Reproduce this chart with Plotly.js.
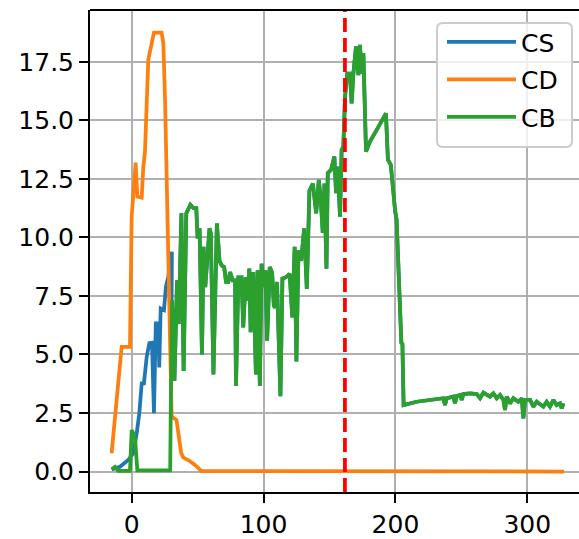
<!DOCTYPE html>
<html><head><meta charset="utf-8">
<script src="https://cdn.plot.ly/plotly-3.0.1.min.js"></script>
<style>html,body{margin:0;padding:0;background:#fff;overflow:hidden}</style>
</head><body><div id="chart" style="width:579px;height:539px"></div>
<script>
// ---- data ----
const seriesNames = ['CS', 'CD', 'CB'];
const seriesColors = ['#1f77b4', '#ff7f0e', '#2ca02c'];

// CD (orange)
const cdX = [-15.2, -7.6, -1.3, 0, 1.2, 3, 4.3, 7.6, 8.8, 10.1, 12.6, 13.9, 15.2, 16.9, 22.7, 24, 25.3, 27.5, 29.5, 30.3, 34, 37.5, 39, 44, 48, 53, 327.9];
const cdY = [0.78, 5.33, 5.33, 10.9, 11.8, 13.2, 11.75, 11.7, 13.0, 13.67, 17.6, 17.94, 18.37, 18.75, 18.75, 18.3, 15.9, 10.5, 4.2, 2.35, 2.2, 0.8, 0.6, 0.45, 0.28, 0.02, 0];

// CS early part (blue), before it coincides with CB
const csEarlyX = [-15.2, -8.9, -2.6, 1.2, 3.8, 5.8, 7.6, 9.3, 11.4, 13.4, 15.4, 16.9, 18.3, 20.2, 20.9, 22, 24.5, 26, 27.8, 29, 30.5];
const csEarlyY = [0.09, 0.2, 0.49, 0.78, 1.63, 2.49, 3.77, 3.77, 4.9, 5.48, 5.5, 2.49, 6.33, 6.33, 4.45, 6.97, 6.9, 7.9, 8.33, 8.75, 9.39];

// CB early part (green)
const cbEarlyX = [-15.2, -12.7, -10.2, -1.3, 0, 2.5, 4.3, 29.2];
const cbEarlyY = [0.09, 0.2, 0.03, 0.03, 1.77, 1.49, 0.05, 0.05];

// shared part of CS and CB
const mainX = [29.8, 30.6, 32.4, 34.4, 35.7, 37.7, 39.4, 41.4, 44.5, 47, 49, 50, 51.5, 53.3, 54.5, 55.8, 59, 60, 62, 64.6, 66.6, 68.3, 70.1, 71.6, 73.3, 74.6, 76.6, 78.4, 79.1, 80.9, 83.3, 84.6, 86.5, 87.6, 89.2, 90.2, 92.2, 94.2, 95.5, 97.2, 98.5, 100.2, 101.5, 102.7, 104.7, 106.5, 107.8, 108.8, 110.2, 112.8, 114.3, 117, 119.8, 121.8, 123.6, 124.9, 126.5, 128.5, 130.8, 132.8, 134.8, 137.4, 139.9, 141.9, 143.5, 144.9, 146.2, 147.7, 148.7, 151.2, 153.7, 155, 156.2, 158, 159.2, 160.5, 161.8, 163.5, 165.5, 166.8, 168.1, 170.1, 171.9, 173.1, 174.4, 175.7, 177.7, 180.7, 185.8, 192.8, 194.3, 196.5, 199.7, 200.9, 204.5, 205.3, 206.2, 216.1, 236.3, 237.6, 238.9, 243.9, 245.2, 246.5, 249, 250.3, 251.5, 256.6, 261.6, 264.2, 266.7, 269.2, 271.7, 274.3, 276.8, 279.3, 281.9, 283.1, 284.4, 286.9, 289.4, 293.2, 295.8, 297, 298.3, 302.1, 304.6, 307.1, 312.2, 314.7, 317.2, 319.8, 322.3, 324.8, 326.1, 327.4];
const mainY = [3.6, 7.3, 3.87, 8.17, 6.3, 11.03, 4.3, 11.03, 11.4, 11.25, 11.25, 9.96, 10.39, 5.0, 9.6, 7.88, 10.39, 10.18, 4.15, 10.6, 9.0, 8.8, 8.74, 8.1, 8.1, 8.52, 8.17, 8.17, 3.65, 8.3, 8.3, 6.16, 8.3, 7.3, 8.67, 5.95, 8.52, 4.15, 8.6, 3.65, 8.88, 7.88, 8.6, 5.59, 8.74, 8.5, 7.09, 7.0, 8.1, 3.22, 8.24, 8.3, 8.45, 6.59, 9.6, 4.7, 9.45, 9.0, 10.39, 7.8, 12.0, 12.3, 11.03, 12.46, 11.5, 10.2, 12.3, 8.67, 12.75, 12.89, 13.46, 11.89, 13.03, 10.89, 13.74, 13.88, 16.02, 17.0, 17.0, 15.73, 17.0, 18.16, 16.94, 18.23, 17.0, 17.87, 13.67, 14.1, 14.6, 15.3, 13.32, 13.1, 11.17, 10.75, 5.5, 5.45, 2.84, 2.98, 3.13, 2.84, 3.13, 3.2, 2.91, 3.23, 3.27, 3.06, 3.31, 3.34, 3.31, 3.13, 3.37, 3.27, 3.2, 3.34, 3.13, 3.27, 3.06, 2.63, 3.2, 2.91, 3.13, 2.98, 3.13, 2.27, 3.06, 3.06, 2.77, 2.98, 2.77, 2.98, 2.77, 3.06, 2.84, 2.91, 2.7, 2.91];

const vLineX = 161.7;

const xTickVals = [0, 100, 200, 300];
const xTickText = ['0', '100', '200', '300'];
const yTickVals = [0, 2.5, 5, 7.5, 10, 12.5, 15, 17.5];
const yTickText = ['0.0', '2.5', '5.0', '7.5', '10.0', '12.5', '15.0', '17.5'];

// ---- build traces ----
const csX = csEarlyX.concat(mainX);
const csY = csEarlyY.concat(mainY);
const cbX = cbEarlyX.concat(mainX);
const cbY = cbEarlyY.concat(mainY);

const xs = [csX, cdX, cbX];
const ys = [csY, cdY, cbY];
const traces = seriesNames.map((n, i) => ({
  type: 'scatter', mode: 'lines', name: n, x: xs[i], y: ys[i],
  legendgroup: 'g' + i,
  line: {color: seriesColors[i], width: 3.75}
}));

const axisCommon = {
  showgrid: true, gridcolor: '#b0b0b0', gridwidth: 2,
  zeroline: false, showline: true, linecolor: 'black', linewidth: 2,
  ticks: 'outside', ticklen: 9, tickwidth: 2, tickcolor: 'black',
  tickfont: {family: 'DejaVu Sans', size: 25, color: 'black'},
  tickmode: 'array'
};

// legend frame (rounded box, matplotlib style) in paper coordinates
const lb = {x0: 0.7096, x1: 0.9857, y0: 0.7158, y1: 0.973, rx: 0.0123, ry: 0.0124};
const framePath =
  'M' + (lb.x0 + lb.rx) + ',' + lb.y0 +
  ' L' + (lb.x1 - lb.rx) + ',' + lb.y0 +
  ' Q' + lb.x1 + ',' + lb.y0 + ' ' + lb.x1 + ',' + (lb.y0 + lb.ry) +
  ' L' + lb.x1 + ',' + (lb.y1 - lb.ry) +
  ' Q' + lb.x1 + ',' + lb.y1 + ' ' + (lb.x1 - lb.rx) + ',' + lb.y1 +
  ' L' + (lb.x0 + lb.rx) + ',' + lb.y1 +
  ' Q' + lb.x0 + ',' + lb.y1 + ' ' + lb.x0 + ',' + (lb.y1 - lb.ry) +
  ' L' + lb.x0 + ',' + (lb.y0 + lb.ry) +
  ' Q' + lb.x0 + ',' + lb.y0 + ' ' + (lb.x0 + lb.rx) + ',' + lb.y0 + ' Z';

const layout = {
  width: 579, height: 539,
  margin: {l: 90, r: 0, t: 10, b: 47},
  paper_bgcolor: 'white', plot_bgcolor: 'white',
  font: {family: 'DejaVu Sans', size: 25, color: 'black'},
  showlegend: true,
  xaxis: Object.assign({}, axisCommon, {range: [-31.6, 339.2], tickvals: xTickVals, ticktext: xTickText}),
  yaxis: Object.assign({}, axisCommon, {range: [-0.876, 19.72], tickvals: yTickVals, ticktext: yTickText}),
  legend: {
    x: 0.7198, y: 0.981, xanchor: 'left', yanchor: 'top',
    bgcolor: 'rgba(0,0,0,0)', borderwidth: 0,
    font: {family: 'DejaVu Sans', size: 25, color: 'black'},
    itemwidth: 69, traceorder: 'grouped', tracegroupgap: 2
  },
  shapes: [
    {type: 'line', xref: 'x', yref: 'paper', x0: vLineX, x1: vLineX, y0: 0, y1: 1,
     line: {color: 'red', width: 3.75, dash: '14px,6px'}},
    {type: 'line', xref: 'paper', yref: 'paper', x0: 0, x1: 1, y0: 1, y1: 1,
     line: {color: 'black', width: 2}},
    {type: 'path', xref: 'paper', yref: 'paper', path: framePath,
     fillcolor: 'rgba(255,255,255,0.8)', line: {color: '#cccccc', width: 2}}
  ]
};

Plotly.newPlot('chart', traces, layout, {displayModeBar: false, staticPlot: true});
</script></body></html>
